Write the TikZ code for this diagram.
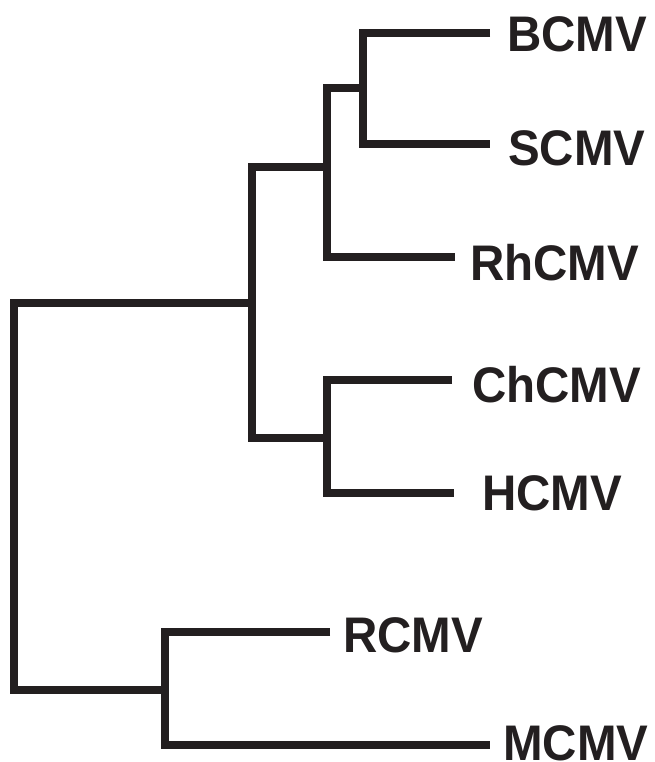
\documentclass[tikz,border=0pt]{standalone}
\usepackage{fontspec}
\setmainfont{Liberation Sans}[FakeStretch=0.95]
\definecolor{ink}{HTML}{231F20}
\begin{document}
\begin{tikzpicture}[x=1pt,y=-1pt,
  branch/.style={draw=ink,line width=8pt,line join=miter},
  lab/.style={font=\bfseries\fontsize{50}{60}\selectfont,text=ink,inner sep=0pt,anchor=base west}]
\useasboundingbox (0,0) rectangle (654,762);
% leaf ends
\coordinate (eB) at (490,33);
\coordinate (eS) at (490,144);
\coordinate (eRh) at (455,257);
\coordinate (eCh) at (452,380);
\coordinate (eH) at (454,493);
\coordinate (eR) at (330,632);
\coordinate (eM) at (490,745);
% internal nodes
\coordinate (n4) at (363,88);
\coordinate (n3) at (327,167);
\coordinate (n5) at (327,438);
\coordinate (n2) at (252,303);
\coordinate (n6) at (165,690);
\coordinate (n1) at (14,500);
% labels
\node[lab] (BCMV) at (507,52) {BCMV};
\node[lab] (SCMV) at (508,165) {SCMV};
\node[lab] (RhCMV) at (470,280) {RhCMV};
\node[lab] (ChCMV) at (472,402) {ChCMV};
\node[lab] (HCMV) at (482,510) {HCMV};
\node[lab] (RCMV) at (343,652) {RCMV};
\node[lab] (MCMV) at (503,760) {MCMV};
% branches
\draw[branch] (eB) -| (n4) |- (eS);
\draw[branch] (n4) -| (n3) |- (eRh);
\draw[branch] (eCh) -| (n5) |- (eH);
\draw[branch] (n3) -| (n2) |- (n5);
\draw[branch] (eR) -| (n6) |- (eM);
\draw[branch] (n2) -| (n1) |- (n6);
\end{tikzpicture}
\end{document}
